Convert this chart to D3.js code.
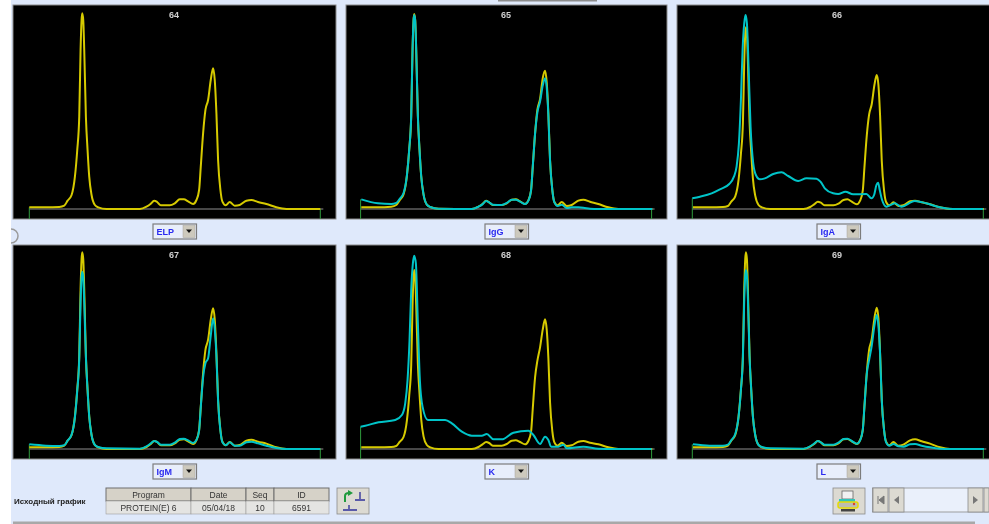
<!DOCTYPE html>
<html>
<head>
<meta charset="utf-8">
<script src="https://cdn.jsdelivr.net/npm/d3@7"></script>
<style>
  html, body { margin: 0; padding: 0; background: #fff; overflow: hidden; }
  svg { display: block; filter: blur(0.6px); font-family: "Liberation Sans", sans-serif; }
</style>
</head>
<body>
<div id="my_dataviz"></div>
<script>
// scan positions shared by most of the traces
var pos = [0,50,90,105,115,127,137,144,150,154,157,159,162,165,170,175,180,187,197,207,232,332,352,364,375,384,395,422,437,452,464,477,492,502,510,515,522,529,537,545,552,557,562,567,574,580,590,602,617,632,652,667,687,712,742,772,874];

// yellow reference trace, one per panel
var elp64 = [5,5,6,10,25,42,97,177,277,477,567,587,567,477,277,177,97,42,12,5,0,0,7,15,25,21,11,11,17,29,29,23,15,27,57,127,227,297,327,387,422,387,287,147,57,22,11,21,10,12,25,27,21,15,5,0,0];
var elp65 = [5,5,7,12,26,44,99,178,279,478,567,585,567,478,279,178,99,44,13,6,1,0,7,15,25,20,12,12,17,28,29,23,15,26,56,126,226,298,330,392,415,380,285,146,56,21,11,21,9,12,25,28,22,15,5,0,0];
var elp66 = [5,5,6,9,22,38,88,165,258,440,525,545,525,440,260,170,92,40,12,5,0,0,6,14,22,19,11,11,16,27,29,22,14,25,55,125,220,283,315,372,402,372,280,145,55,21,11,20,9,11,23,25,20,14,5,0,0];
var elp67 = [5,5,6,10,25,42,98,178,279,480,570,590,570,480,279,178,98,42,12,5,0,0,6,14,24,21,11,11,17,28,29,23,15,27,57,127,228,297,328,388,422,388,287,147,57,22,11,21,10,12,25,28,22,16,5,0,0];
var elp68 = [5,5,6,9,21,36,85,160,252,430,515,537,515,430,255,165,90,38,12,5,0,0,6,14,21,18,10,10,15,25,26,21,14,24,52,120,215,265,305,358,389,358,272,140,52,20,10,19,9,11,22,24,19,14,5,0,0];
var elp69 = [5,5,6,10,25,42,98,178,279,480,570,590,570,480,279,178,98,42,12,5,0,0,7,15,24,20,11,11,17,29,30,23,15,27,57,128,228,297,330,392,424,392,288,148,57,22,11,21,10,13,26,29,23,16,5,0,0];

// cyan traces that follow the same positions
var igG = [29,17,15,18,30,48,100,178,279,478,565,582,565,478,279,178,99,44,13,6,1,0,7,14,24,20,13,12,18,28,28,22,15,25,56,126,226,290,322,370,392,365,280,145,55,20,9,13,3,5,5,4,1,0,0,0,0];
var igM = [14,10,9,11,25,43,95,175,270,440,515,532,515,440,275,177,97,42,12,6,2,1,8,16,24,21,13,13,19,30,31,26,18,27,55,125,215,257,272,340,392,360,280,145,55,20,11,20,10,10,20,22,17,10,3,0,0];
var igL = [14,10,10,13,26,45,97,177,277,450,520,537,520,450,277,177,97,42,12,6,2,1,8,16,24,20,13,13,19,30,31,24,16,26,57,127,225,267,310,370,402,370,285,146,56,20,10,15,8,7,14,15,10,5,1,0,0];

// IgA and K have their own shape so they get their own positions
var igAPos = [0,23,58,83,111,125,133,140,146,151,156,160,164,169,175,183,191,203,218,243,268,288,318,343,373,385,398,423,438,460,483,523,538,546,553,558,563,570,583,598,608,628,668,703,743,783,874];
var igA = [32,37,47,59,75,97,127,197,327,477,557,582,557,427,247,137,102,89,92,105,110,99,84,92,91,82,62,47,45,52,44,45,32,42,72,79,57,27,7,13,17,7,24,17,5,0,0];
var kPos = [0,14,54,104,124,134,141,147,152,157,161,166,172,178,186,202,254,274,304,334,364,379,399,424,459,504,519,539,554,564,572,594,609,619,669,714,760,874];
var kVal = [67,70,80,87,102,137,207,327,477,557,580,557,377,207,127,87,87,77,52,40,40,45,29,29,49,55,42,15,37,27,7,7,13,2,7,1,0,0];

var panelIds = ["64","65","66","67","68","69"];
var selectLabels = ["ELP","IgG","IgA","IgM","K","L"];
var infoHeaders = ["Program","Date","Seq","ID"];
var infoValues = ["PROTEIN(E) 6","05/04/18","10","6591"];

var panels = [
  {id: panelIds[0], sel: selectLabels[0], x0: 13,  w: 323, y0: 5,   yellow: elp64, cyan: null},
  {id: panelIds[1], sel: selectLabels[1], x0: 346, w: 321, y0: 5,   yellow: elp65, cyan: igG},
  {id: panelIds[2], sel: selectLabels[2], x0: 677, w: 321, y0: 5,   yellow: elp66, cyan: igA, cyanPos: igAPos},
  {id: panelIds[3], sel: selectLabels[3], x0: 13,  w: 323, y0: 245, yellow: elp67, cyan: igM},
  {id: panelIds[4], sel: selectLabels[4], x0: 346, w: 321, y0: 245, yellow: elp68, cyan: kVal, cyanPos: kPos},
  {id: panelIds[5], sel: selectLabels[5], x0: 677, w: 321, y0: 245, yellow: elp69, cyan: igL}
];

var width = 989, height = 524;

var svg = d3.select("#my_dataviz")
  .append("svg")
    .attr("width", width)
    .attr("height", height);

// window background
svg.append("rect").attr("x", 11).attr("y", 0).attr("width", width - 11).attr("height", height).attr("fill", "#dfe9fb");
svg.append("rect").attr("x", 498).attr("y", 0).attr("width", 99).attr("height", 1.5).attr("fill", "#8c8c8c");
svg.append("path").attr("d", "M11,229 A7,7 0 0 1 11,243").attr("fill", "none").attr("stroke", "#9a9a9a").attr("stroke-width", 1.5);
svg.append("rect").attr("x", 13).attr("y", 521.5).attr("width", 962).attr("height", 2.5).attr("fill", "#a8a8a8");

panels.forEach(function(p) {
  var g = svg.append("g").attr("transform", "translate(" + p.x0 + "," + p.y0 + ")");
  var h = 214;

  g.append("rect")
    .attr("width", p.w).attr("height", h)
    .attr("fill", "#000").attr("stroke", "#8a8a8a").attr("stroke-width", 1);

  var left = p.x0 === 13 ? 16.3 : p.x0 === 346 ? 14.6 : 15.3;
  var x = d3.scaleLinear().domain([0, 874]).range([left, left + 291]);
  var y = d3.scaleLinear().domain([0, 590]).range([204, 7.3]);

  // the first column's traces sit two scan steps left of the others
  var shift = p.x0 === 13 ? 0 : 2;

  // baseline and the two green limits
  g.append("line")
    .attr("x1", x(0)).attr("x2", x(874) + 3)
    .attr("y1", y(0)).attr("y2", y(0))
    .attr("stroke", "#8f8f8f").attr("stroke-width", 1);

  var startVal = p.cyan ? p.cyan[0] : p.yellow[0];
  g.append("line")
    .attr("x1", x(0)).attr("x2", x(0))
    .attr("y1", y(startVal)).attr("y2", h)
    .attr("stroke", "#2f9a3c").attr("stroke-width", 1);
  g.append("line")
    .attr("x1", x(874)).attr("x2", x(874))
    .attr("y1", y(0)).attr("y2", h)
    .attr("stroke", "#2f9a3c").attr("stroke-width", 1);

  g.append("text")
    .attr("x", (p.x0 === 13 ? 161 : 160)).attr("y", 13)
    .attr("text-anchor", "middle")
    .attr("fill", "#d0d0d0")
    .style("font-size", "9px").style("font-weight", "700")
    .text(p.id);

  var line = d3.line()
    .x(function(d) { return x(d[0]); })
    .y(function(d) { return y(d[1]); })
    .curve(d3.curveMonotoneX);

  g.append("path")
    .datum(d3.zip(pos.map(function(v) { return v + shift; }), p.yellow))
    .attr("fill", "none").attr("stroke", "#d6ca00").attr("stroke-width", 2)
    .attr("d", line);

  if (p.cyan) {
    var cx = p.cyanPos || pos.map(function(v) { return v + shift; });
    g.append("path")
      .datum(d3.zip(cx, p.cyan))
      .attr("fill", "none").attr("stroke", "#00c4c8").attr("stroke-width", 2)
      .attr("d", line);
  }

  // selector under the panel
  var sx = p.x0 === 13 ? 153 : p.x0 === 346 ? 485 : 817;
  var s = svg.append("g").attr("transform", "translate(" + sx + "," + (p.y0 + 219) + ")");
  s.append("rect").attr("width", 43.5).attr("height", 15).attr("fill", "#e8eefb").attr("stroke", "#7c7c7c").attr("stroke-width", 1.2);
  s.append("rect").attr("x", 30).attr("y", 1.5).attr("width", 12).attr("height", 12).attr("fill", "#cdc9bd").attr("stroke", "#a8a49a").attr("stroke-width", 0.5);
  s.append("path").attr("d", "M33,5.5 h6 l-3,3.5 z").attr("fill", "#111");
  s.append("text").attr("x", 3.5).attr("y", 11)
    .attr("fill", "#2a2af0")
    .style("font-size", "9px").style("font-weight", "700")
    .text(p.sel);
});

// bottom strip
svg.append("text").attr("x", 14).attr("y", 504)
  .attr("fill", "#222")
  .style("font-size", "8px").style("font-weight", "700")
  .text("Исходный график");

var colX = d3.scaleOrdinal().domain(d3.range(4)).range([106, 191, 246, 274]);
var colW = [85, 55, 28, 55];
var info = svg.append("g");
infoHeaders.forEach(function(t, i) {
  info.append("rect").attr("x", colX(i)).attr("y", 488).attr("width", colW[i]).attr("height", 13)
    .attr("fill", "#d6d2c8").attr("stroke", "#6e6e6e").attr("stroke-width", 1);
  info.append("rect").attr("x", colX(i)).attr("y", 501).attr("width", colW[i]).attr("height", 13)
    .attr("fill", "#e4e4e2").attr("stroke", "#8e8e8e").attr("stroke-width", 0.5);
  info.append("text").attr("x", colX(i) + colW[i] / 2).attr("y", 498)
    .attr("text-anchor", "middle").attr("fill", "#333").style("font-size", "8.5px").text(t);
  info.append("text").attr("x", colX(i) + colW[i] / 2).attr("y", 511)
    .attr("text-anchor", "middle").attr("fill", "#333").style("font-size", "8.5px").text(infoValues[i]);
});

function button(bx, by, bw, bh) {
  var b = svg.append("g").attr("transform", "translate(" + bx + "," + by + ")");
  b.append("rect").attr("width", bw).attr("height", bh).attr("fill", "#dcdad2").attr("stroke", "#8a8a8a").attr("stroke-width", 0.8);
  return b;
}

// recalc icon
var b1 = button(337, 488, 32, 26);
b1.append("path").attr("d", "M6,22 h14 M12,22 v-5 M18,12 h10 M23,12 v-8").attr("stroke", "#5a5aa8").attr("stroke-width", 1.8).attr("fill", "none");
b1.append("path").attr("d", "M8,14 v-6 q0,-3 4,-3").attr("stroke", "#1f9a3c").attr("stroke-width", 2).attr("fill", "none");
b1.append("path").attr("d", "M11,2 l5,3 l-5,3 z").attr("fill", "#1f9a3c");

// printer icon
var b2 = button(833, 488, 32, 26);
b2.append("rect").attr("x", 9).attr("y", 3).attr("width", 11).attr("height", 8).attr("fill", "#f2f2f2").attr("stroke", "#666").attr("stroke-width", 0.8);
b2.append("rect").attr("x", 6).attr("y", 11).attr("width", 16).attr("height", 4).attr("fill", "#33c4b8");
b2.append("rect").attr("x", 5).attr("y", 14).attr("width", 20).attr("height", 6).attr("rx", 2).attr("fill", "#bdbdb0").attr("stroke", "#e6dc00").attr("stroke-width", 1.5);
b2.append("circle").attr("cx", 21).attr("cy", 16).attr("r", 1.2).attr("fill", "#e0402a");
b2.append("rect").attr("x", 8).attr("y", 21).attr("width", 14).attr("height", 2.5).attr("fill", "#444");

// scroller
svg.append("rect").attr("x", 872.5).attr("y", 488).attr("width", 116).attr("height", 24).attr("fill", "#eaf0fb").attr("stroke", "#8a8a8a").attr("stroke-width", 0.8);
var b3 = button(873, 488, 15, 24);
b3.append("path").attr("d", "M5,8 v8 M11,8 v8 l-5,-4 z").attr("stroke", "#777").attr("fill", "#777");
var b4 = button(889, 488, 15, 24);
b4.append("path").attr("d", "M10,8 v8 l-5,-4 z").attr("fill", "#777");
var b5 = button(968, 488, 15, 24);
b5.append("path").attr("d", "M5,8 v8 l5,-4 z").attr("fill", "#777");
button(984, 488, 5, 24);
</script>
</body>
</html>
